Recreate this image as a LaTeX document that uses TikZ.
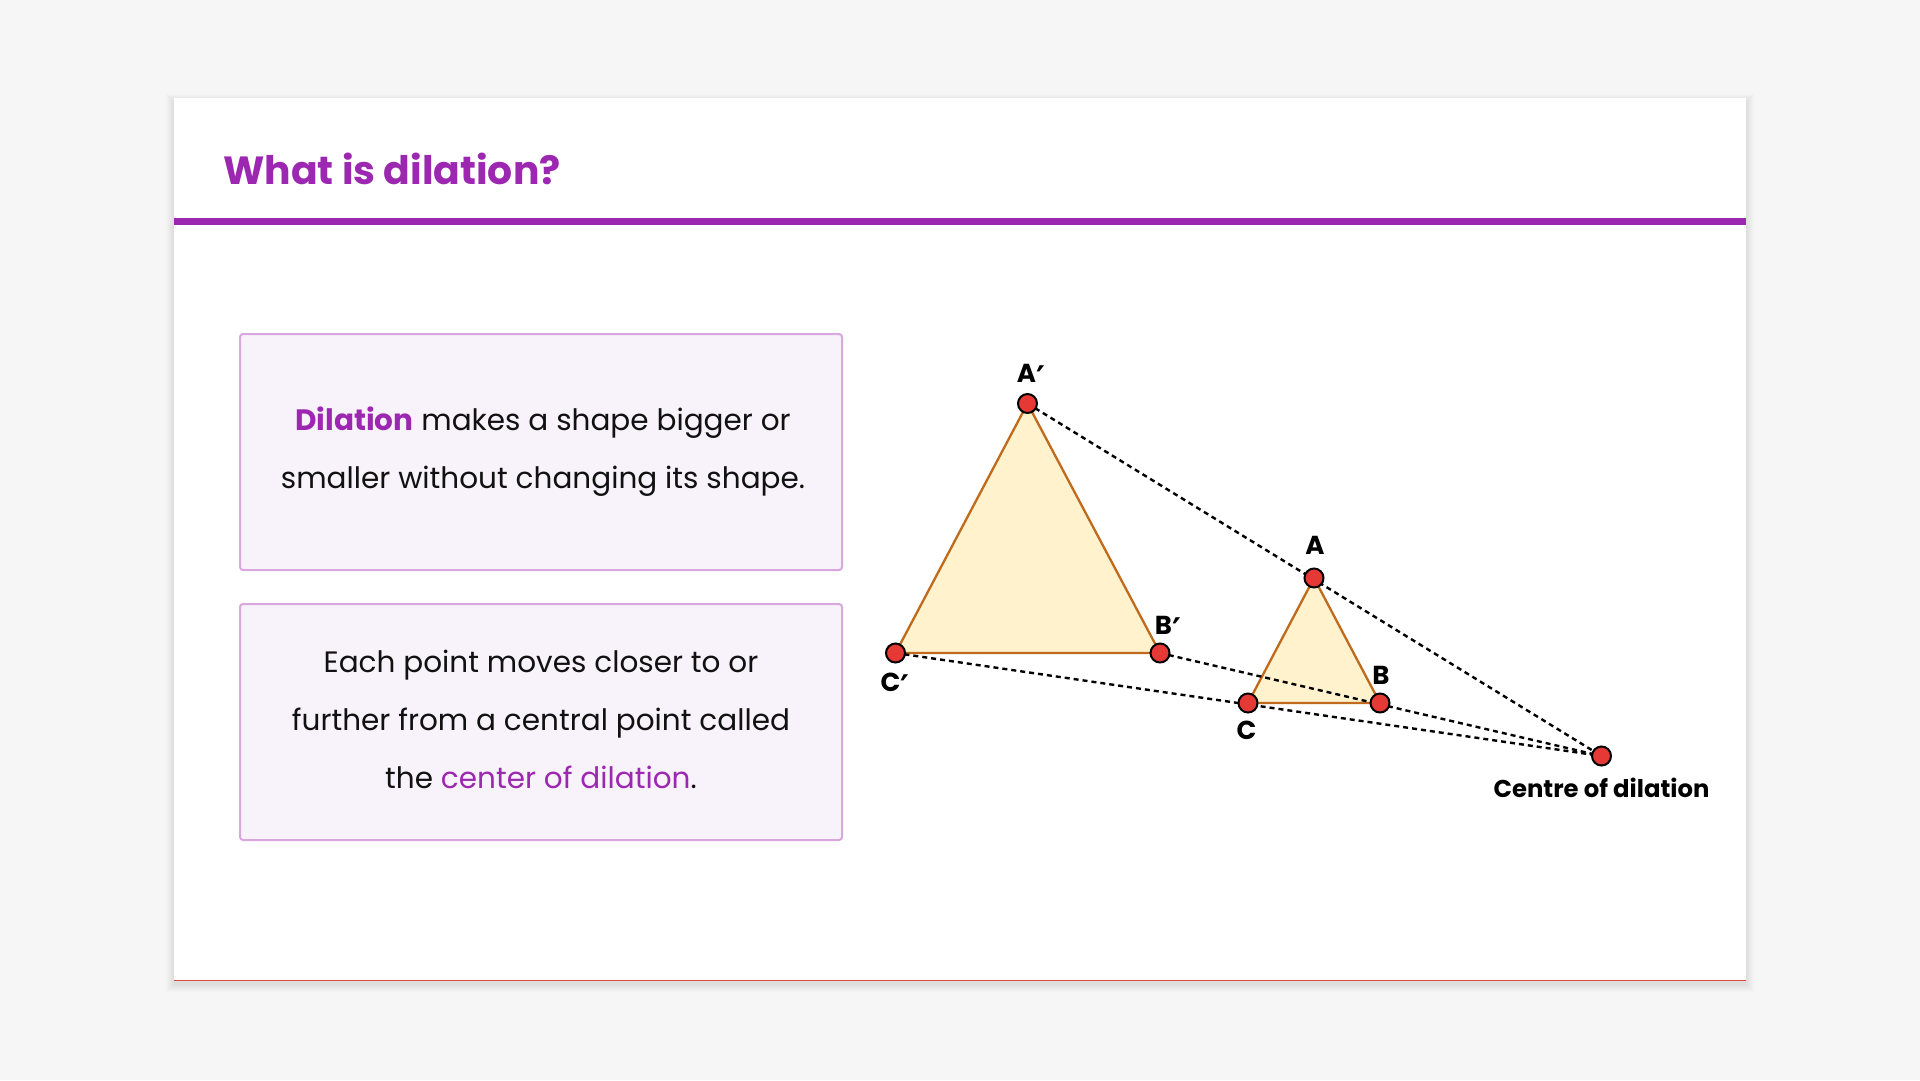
\documentclass[tikz,border=0pt]{standalone}
\usepackage{fontspec}
\setmainfont{Poppins}
\newfontfamily\djv{DejaVu Sans}
\newcommand{\prm}{\raisebox{-8pt}{\djv\bfseries\fontsize{34}{34}\selectfont ′}}
\definecolor{bg}{HTML}{F6F6F6}
\definecolor{pur}{HTML}{9C27B0}
\definecolor{boxfill}{HTML}{F8F3FA}
\definecolor{boxline}{HTML}{D9A6E0}
\definecolor{triline}{HTML}{BF6A1C}
\definecolor{trifill}{HTML}{FFF2CC}
\definecolor{dotred}{HTML}{E53935}
\definecolor{txt}{HTML}{111111}
\definecolor{redline}{HTML}{E04A3A}
\begin{document}
\begin{tikzpicture}[x=1pt,y=-1pt,
  infobox/.style={draw=boxline, line width=2pt, fill=boxfill, rounded corners=3pt, inner sep=0pt},
  bodytext/.style={anchor=base, inner sep=0pt, font=\fontsize{29.5}{34}\selectfont, text=txt},
  ptlabel/.style={inner sep=0pt, font=\fontsize{26}{30}\selectfont\bfseries, text=black},
  dot/.style={circle, minimum size=19pt, inner sep=0pt, fill=dotred, draw=black, line width=2pt},
  tri/.style={draw=triline, line width=2.3pt, fill=trifill, line join=round},
  ray/.style={draw=black, line width=2.4pt, dash pattern=on 5pt off 4pt}]
\useasboundingbox (0,0) rectangle (1920,1080);
\fill[bg] (0,0) rectangle (1920,1080);
% card shadow
\foreach \i in {1,...,8}{
  \fill[black, opacity=0.01] (174-\i,98-\i+4) rectangle (1746+\i,981+\i+3);
}
\fill[white] (174,98) rectangle (1746,981);
\draw[redline, line width=1.5pt] (174,980.5) -- (1746,980.5);
\fill[pur] (174,218) rectangle (1746,225);
\node[anchor=base west, inner sep=0pt, text=pur, font=\fontsize{39.3}{48}\selectfont\bfseries] (title) at (223,184) {What is dilation?};

% info boxes
\node[infobox, anchor=north west, minimum width=602pt, minimum height=236pt] (box1) at (239,333) {};
\node[infobox, anchor=north west, minimum width=602pt, minimum height=236pt] (box2) at (239,603) {};
\node[bodytext] (b1l1) at (543,430) {{\bfseries\color{pur}Dilation} makes a shape bigger or};
\node[bodytext] (b1l2) at (543,488) {smaller without changing its shape.};
\node[bodytext] (b2l1) at (541,672) {Each point moves closer to or};
\node[bodytext] (b2l2) at (541,730) {further from a central point called};
\node[bodytext] (b2l3) at (541,788) {the {\color{pur}center of dilation}.};

% geometry
\coordinate (Ap) at (1027.5,403.5);
\coordinate (Bp) at (1160,653);
\coordinate (Cp) at (895.5,653);
\coordinate (A) at (1314,578);
\coordinate (B) at (1380,703);
\coordinate (C) at (1248,703);
\coordinate (O) at (1601.5,756);

\filldraw[tri] (Ap) -- (Bp) -- (Cp) -- cycle;
\filldraw[tri] (A) -- (B) -- (C) -- cycle;
\draw[ray] (Ap) -- (O);
\draw[ray] (Bp) -- (O);
\draw[ray] (Cp) -- (O);

\node[dot] (Ap-dot) at (Ap) {};
\node[dot] (Bp-dot) at (Bp) {};
\node[dot] (Cp-dot) at (Cp) {};
\node[dot] (A-dot) at (A) {};
\node[dot] (B-dot) at (B) {};
\node[dot] (C-dot) at (C) {};
\node[dot] (O-dot) at (O) {};

\node[ptlabel, anchor=base] (Ap-lab) at (1031,382) {A\prm};
\node[ptlabel, anchor=base] (Bp-lab) at (1168,634) {B\prm};
\node[ptlabel, anchor=base] (Cp-lab) at (895,691) {C\prm};
\node[ptlabel] (A-lab) at (1315,545) {A};
\node[ptlabel] (B-lab) at (1381,675) {B};
\node[ptlabel] (C-lab) at (1246.5,730) {C};
\node[inner sep=0pt, font=\fontsize{24.3}{30}\selectfont\bfseries, text=black] (O-lab) at (1601.5,788) {Centre of dilation};
\end{tikzpicture}
\end{document}
